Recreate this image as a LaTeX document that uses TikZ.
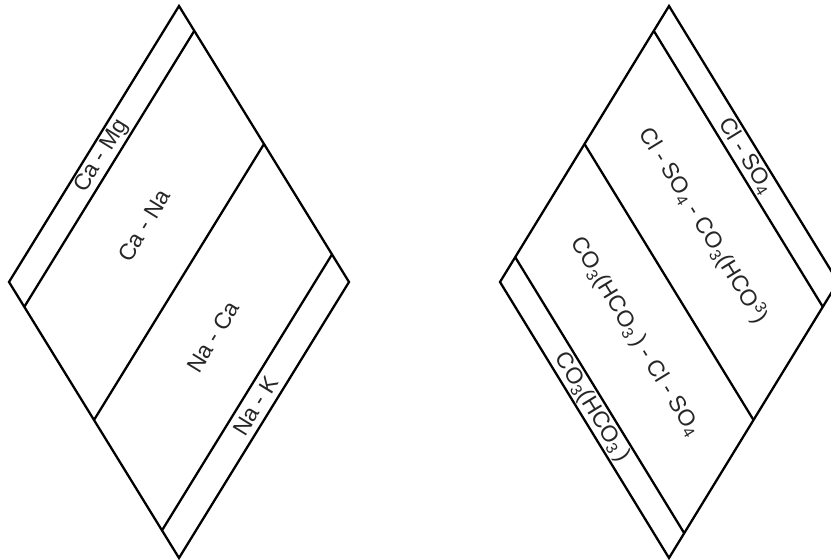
\documentclass[tikz,border=0pt]{standalone}
\usepackage{fontspec}
\setmainfont{Liberation Sans}
\usetikzlibrary{calc}
\tikzset{
  %% Diamond outline and facies boundaries
  rim/.style={draw=black, line width=1.3pt, line join=miter},
  %% Facies label along a strip
  facies/.style={
    sloped, inner sep=0pt, text=black!85,
    font=\fontsize{13}{15}\selectfont
  },
}

\begin{document}
\begin{tikzpicture}[x=0.02cm, y=-0.02cm]

  \useasboundingbox (0,0) rectangle (831,560);
  \clip (0,0) rectangle (831,560);

  %% Cation diamond
  \coordinate (cT) at (179,6);
  \coordinate (cL) at (9,282);
  \coordinate (cR) at (349,282);
  \coordinate (cB) at (179,558);
  \draw[rim] (cT) -- (cR) -- (cB) -- (cL) -- cycle;
  \foreach \f in {0.09, 0.5, 0.9}
    \draw[rim] ($(cT)!\f!(cR)$) -- ($(cL)!\f!(cB)$);

  \path ($(cL)!0.045!(cB)$) -- node[facies] {Ca - Mg} ($(cT)!0.045!(cR)$);
  \path ($(cL)!0.295!(cB)$) -- node[facies] {Ca - Na} ($(cT)!0.295!(cR)$);
  \path ($(cL)!0.70!(cB)$)  -- node[facies] {Na - Ca} ($(cT)!0.70!(cR)$);
  \path ($(cL)!0.95!(cB)$)  -- node[facies] {Na - K}  ($(cT)!0.95!(cR)$);

  %% Anion diamond
  \coordinate (aT) at (669,6);
  \coordinate (aL) at (500,282);
  \coordinate (aR) at (838,282);
  \coordinate (aB) at (669,558);
  \draw[rim] (aT) -- (aR) -- (aB) -- (aL) -- cycle;
  \foreach \f in {0.09, 0.5, 0.91}
    \draw[rim] ($(aT)!\f!(aL)$) -- ($(aR)!\f!(aB)$);

  \path ($(aT)!0.045!(aL)$) -- node[facies]
        {Cl - SO\textsubscript{4}} ($(aR)!0.045!(aB)$);
  \path ($(aT)!0.295!(aL)$) -- node[facies]
        {Cl - SO\textsubscript{4} - CO\textsubscript{3}(HCO\textsuperscript{3})}
        ($(aR)!0.295!(aB)$);
  \path ($(aT)!0.70!(aL)$)  -- node[facies]
        {CO\textsubscript{3}(HCO\textsubscript{3}\,) - Cl - SO\textsubscript{4}}
        ($(aR)!0.70!(aB)$);
  \path ($(aT)!0.955!(aL)$) -- node[facies]
        {CO\textsubscript{3}(HCO\textsubscript{3}\,)} ($(aR)!0.955!(aB)$);

\end{tikzpicture}
\end{document}
